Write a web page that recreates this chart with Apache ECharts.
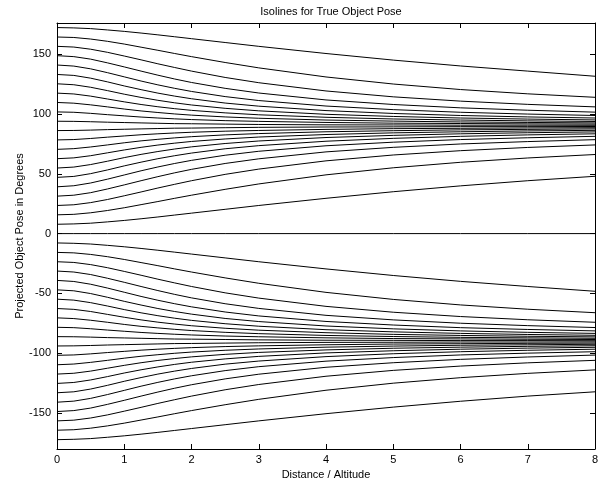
<!DOCTYPE html>
<html>
<head>
<meta charset="utf-8">
<script src="https://cdn.jsdelivr.net/npm/echarts@6/dist/echarts.min.js"></script>
<style>
  html, body { margin: 0; padding: 0; background: #fff; }
  #chart { width: 602px; height: 482px; }
</style>
</head>
<body>
<div id="chart"></div>
<script>
// x positions where each isoline was read
const distance = [0, 0.25, 0.5, 0.75, 1, 1.25, 1.5, 1.75, 2, 2.5, 3, 4, 5, 6, 7, 8];

// isolines above zero (true pose 7.8 ... 172.2 deg)
const upperLines = [
  [7.8, 8.1, 8.7, 9.8, 11.0, 12.4, 13.9, 15.5, 17.1, 20.3, 23.5, 29.5, 35.0, 39.9, 44.2, 47.9],
  [15.7, 16.1, 17.4, 19.3, 21.6, 24.2, 26.8, 29.5, 32.1, 37.0, 41.5, 49.1, 55.0, 59.6, 63.2, 66.1],
  [23.5, 24.1, 25.9, 28.5, 31.6, 34.8, 38.1, 41.2, 44.2, 49.5, 53.9, 60.8, 65.7, 69.3, 72.0, 74.1],
  [31.3, 32.1, 34.2, 37.3, 40.7, 44.2, 47.6, 50.8, 53.7, 58.6, 62.5, 68.3, 72.1, 74.9, 76.9, 78.5],
  [39.1, 40.0, 42.3, 45.5, 49.0, 52.5, 55.7, 58.6, 61.2, 65.5, 68.8, 73.4, 76.4, 78.6, 80.1, 81.3],
  [47.0, 47.8, 50.1, 53.2, 56.6, 59.7, 62.6, 65.1, 67.3, 70.9, 73.5, 77.2, 79.6, 81.3, 82.5, 83.4],
  [54.8, 55.6, 57.7, 60.5, 63.5, 66.2, 68.6, 70.7, 72.5, 75.3, 77.4, 80.3, 82.1, 83.4, 84.3, 85.0],
  [62.6, 63.3, 65.1, 67.5, 69.9, 72.1, 74.0, 75.6, 77.0, 79.1, 80.7, 82.8, 84.2, 85.1, 85.8, 86.3],
  [70.4, 71.0, 72.4, 74.1, 75.9, 77.5, 78.8, 80.0, 81.0, 82.5, 83.6, 85.1, 86.0, 86.7, 87.1, 87.5],
  [78.3, 78.6, 79.5, 80.6, 81.6, 82.6, 83.4, 84.1, 84.7, 85.6, 86.2, 87.1, 87.7, 88.0, 88.3, 88.5],
  [86.1, 86.2, 86.5, 86.9, 87.2, 87.5, 87.8, 88.1, 88.2, 88.5, 88.8, 89.1, 89.2, 89.4, 89.4, 89.5],
  [93.9, 93.8, 93.5, 93.1, 92.8, 92.5, 92.2, 91.9, 91.8, 91.5, 91.2, 90.9, 90.8, 90.6, 90.6, 90.5],
  [101.7, 101.4, 100.5, 99.4, 98.4, 97.4, 96.6, 95.9, 95.3, 94.4, 93.8, 92.9, 92.3, 92.0, 91.7, 91.5],
  [109.6, 109.0, 107.6, 105.9, 104.1, 102.5, 101.2, 100.0, 99.0, 97.5, 96.4, 94.9, 94.0, 93.3, 92.9, 92.5],
  [117.4, 116.7, 114.9, 112.5, 110.1, 107.9, 106.0, 104.4, 103.0, 100.9, 99.3, 97.2, 95.8, 94.9, 94.2, 93.7],
  [125.2, 124.4, 122.3, 119.5, 116.5, 113.8, 111.4, 109.3, 107.5, 104.7, 102.6, 99.7, 97.9, 96.6, 95.7, 95.0],
  [133.0, 132.2, 129.9, 126.8, 123.4, 120.3, 117.4, 114.9, 112.7, 109.1, 106.5, 102.8, 100.4, 98.7, 97.5, 96.6],
  [140.9, 140.0, 137.7, 134.5, 131.0, 127.5, 124.3, 121.4, 118.8, 114.5, 111.2, 106.6, 103.6, 101.4, 99.9, 98.7],
  [148.7, 147.9, 145.8, 142.7, 139.3, 135.8, 132.4, 129.2, 126.3, 121.4, 117.5, 111.7, 107.9, 105.1, 103.1, 101.5],
  [156.5, 155.9, 154.1, 151.5, 148.4, 145.2, 141.9, 138.8, 135.8, 130.5, 126.1, 119.2, 114.3, 110.7, 108.0, 105.9],
  [164.3, 163.9, 162.6, 160.7, 158.4, 155.8, 153.2, 150.5, 147.9, 143.0, 138.5, 130.9, 125.0, 120.4, 116.8, 113.9],
  [172.2, 171.9, 171.3, 170.2, 169.0, 167.6, 166.1, 164.5, 162.9, 159.7, 156.5, 150.5, 145.0, 140.1, 135.8, 131.5]
];

// the flat line at zero
const zeroLine = [0, 0, 0, 0, 0, 0, 0, 0, 0, 0, 0, 0, 0, 0, 0, 0];

// isolines below zero (true pose -7.8 ... -172.2 deg)
const lowerLines = [
  [-7.8, -8.1, -8.7, -9.8, -11.0, -12.4, -13.9, -15.5, -17.1, -20.3, -23.5, -29.5, -35.0, -39.9, -44.2, -48.2],
  [-15.7, -16.1, -17.4, -19.3, -21.6, -24.2, -26.8, -29.5, -32.1, -37.0, -41.5, -49.1, -55.0, -59.6, -63.2, -66.1],
  [-23.5, -24.1, -25.9, -28.5, -31.6, -34.8, -38.1, -41.2, -44.2, -49.5, -53.9, -60.8, -65.7, -69.3, -72.0, -74.1],
  [-31.3, -32.1, -34.2, -37.3, -40.7, -44.2, -47.6, -50.8, -53.7, -58.6, -62.5, -68.3, -72.1, -74.9, -76.9, -78.5],
  [-39.1, -40.0, -42.3, -45.5, -49.0, -52.5, -55.7, -58.6, -61.2, -65.5, -68.8, -73.4, -76.4, -78.6, -80.1, -81.3],
  [-47.0, -47.8, -50.1, -53.2, -56.6, -59.7, -62.6, -65.1, -67.3, -70.9, -73.5, -77.2, -79.6, -81.3, -82.5, -83.4],
  [-54.8, -55.6, -57.7, -60.5, -63.5, -66.2, -68.6, -70.7, -72.5, -75.3, -77.4, -80.3, -82.1, -83.4, -84.3, -85.0],
  [-62.6, -63.3, -65.1, -67.5, -69.9, -72.1, -74.0, -75.6, -77.0, -79.1, -80.7, -82.8, -84.2, -85.1, -85.8, -86.3],
  [-70.4, -71.0, -72.4, -74.1, -75.9, -77.5, -78.8, -80.0, -81.0, -82.5, -83.6, -85.1, -86.0, -86.7, -87.1, -87.5],
  [-78.3, -78.6, -79.5, -80.6, -81.6, -82.6, -83.4, -84.1, -84.7, -85.6, -86.2, -87.1, -87.7, -88.0, -88.3, -88.5],
  [-86.1, -86.2, -86.5, -86.9, -87.2, -87.5, -87.8, -88.1, -88.2, -88.5, -88.8, -89.1, -89.2, -89.4, -89.4, -89.5],
  [-93.9, -93.8, -93.5, -93.1, -92.8, -92.5, -92.2, -91.9, -91.8, -91.5, -91.2, -90.9, -90.8, -90.6, -90.6, -90.5],
  [-101.7, -101.4, -100.5, -99.4, -98.4, -97.4, -96.6, -95.9, -95.3, -94.4, -93.8, -92.9, -92.3, -92.0, -91.7, -91.5],
  [-109.6, -109.0, -107.6, -105.9, -104.1, -102.5, -101.2, -100.0, -99.0, -97.5, -96.4, -94.9, -94.0, -93.3, -92.9, -92.5],
  [-117.4, -116.7, -114.9, -112.5, -110.1, -107.9, -106.0, -104.4, -103.0, -100.9, -99.3, -97.2, -95.8, -94.9, -94.2, -93.7],
  [-125.2, -124.4, -122.3, -119.5, -116.5, -113.8, -111.4, -109.3, -107.5, -104.7, -102.6, -99.7, -97.9, -96.6, -95.7, -95.0],
  [-133.0, -132.2, -129.9, -126.8, -123.4, -120.3, -117.4, -114.9, -112.7, -109.1, -106.5, -102.8, -100.4, -98.7, -97.5, -96.6],
  [-140.9, -140.0, -137.7, -134.5, -131.0, -127.5, -124.3, -121.4, -118.8, -114.5, -111.2, -106.6, -103.6, -101.4, -99.9, -98.7],
  [-148.7, -147.9, -145.8, -142.7, -139.3, -135.8, -132.4, -129.2, -126.3, -121.4, -117.5, -111.7, -107.9, -105.1, -103.1, -101.5],
  [-156.5, -155.9, -154.1, -151.5, -148.4, -145.2, -141.9, -138.8, -135.8, -130.5, -126.1, -119.2, -114.3, -110.7, -108.0, -105.9],
  [-164.3, -163.9, -162.6, -160.7, -158.4, -155.8, -153.2, -150.5, -147.9, -143.0, -138.5, -130.9, -125.0, -120.4, -116.8, -113.9],
  [-172.2, -171.9, -171.3, -170.2, -169.0, -167.6, -166.1, -164.5, -162.9, -159.7, -156.5, -150.5, -145.0, -140.1, -135.8, -132.2]
];

// tick labels
const xTicks = [0, 1, 2, 3, 4, 5, 6, 7, 8];
const yTicks = [-150, -100, -50, 0, 50, 100, 150];

const FONT = '"Liberation Sans", Arial, sans-serif';

const chart = echarts.init(document.getElementById('chart'), null, { renderer: 'canvas' });

const allLines = [...upperLines, zeroLine, ...lowerLines];
const series = allLines.map((vals, n) => ({
  name: 'line' + n,
  type: 'line',
  xAxisIndex: 0,
  yAxisIndex: 0,
  data: distance.map((d, i) => [d, vals[i]]),
  showSymbol: false,
  symbol: 'none',
  smooth: false,
  silent: true,
  lineStyle: { color: '#000', width: 1 }
}));

const axisLineStyle = { show: true, onZero: false, lineStyle: { color: '#000', width: 1 } };

const option = {
  animation: false,
  backgroundColor: '#fff',
  title: {
    text: 'Isolines for True Object Pose',
    left: 326,
    textAlign: 'center',
    top: 1,
    textStyle: { fontFamily: FONT, fontSize: 11, fontWeight: 'normal', color: '#000' }
  },
  grid: { left: 57, right: 7, top: 23, bottom: 33, containLabel: false, outerBoundsMode: 'none' },
  xAxis: [
    {
      type: 'value', position: 'bottom', min: 0, max: 8,
      axisLine: axisLineStyle,
      axisTick: { show: true, inside: true, length: 5, customValues: xTicks, lineStyle: { color: '#000' } },
      axisLabel: { show: true, customValues: xTicks, margin: 5, color: '#000', fontFamily: FONT, fontSize: 11 },
      splitLine: { show: false },
      name: 'Distance / Altitude',
      nameLocation: 'middle',
      nameGap: 18,
      nameTextStyle: { color: '#000', fontFamily: FONT, fontSize: 11 }
    },
    {
      type: 'value', position: 'top', min: 0, max: 8,
      axisLine: axisLineStyle,
      axisTick: { show: true, inside: true, length: 5, customValues: xTicks, lineStyle: { color: '#000' } },
      axisLabel: { show: false },
      splitLine: { show: false }
    }
  ],
  yAxis: [
    {
      type: 'value', position: 'left', min: -180, max: 176,
      axisLine: axisLineStyle,
      axisTick: { show: true, inside: true, length: 5, customValues: yTicks, lineStyle: { color: '#000' } },
      axisLabel: { show: true, customValues: yTicks, margin: 6, color: '#000', fontFamily: FONT, fontSize: 11 },
      splitLine: { show: false },
      name: 'Projected Object Pose in Degrees',
      nameLocation: 'middle',
      nameRotate: 90,
      nameGap: 32,
      nameMoveOverlap: false,
      nameTextStyle: { color: '#000', fontFamily: FONT, fontSize: 11 }
    },
    {
      type: 'value', position: 'right', min: -180, max: 176,
      axisLine: axisLineStyle,
      axisTick: { show: true, inside: true, length: 5, customValues: yTicks, lineStyle: { color: '#000' } },
      axisLabel: { show: false },
      splitLine: { show: false }
    }
  ],
  series: series
};

chart.setOption(option);
</script>
</body>
</html>
